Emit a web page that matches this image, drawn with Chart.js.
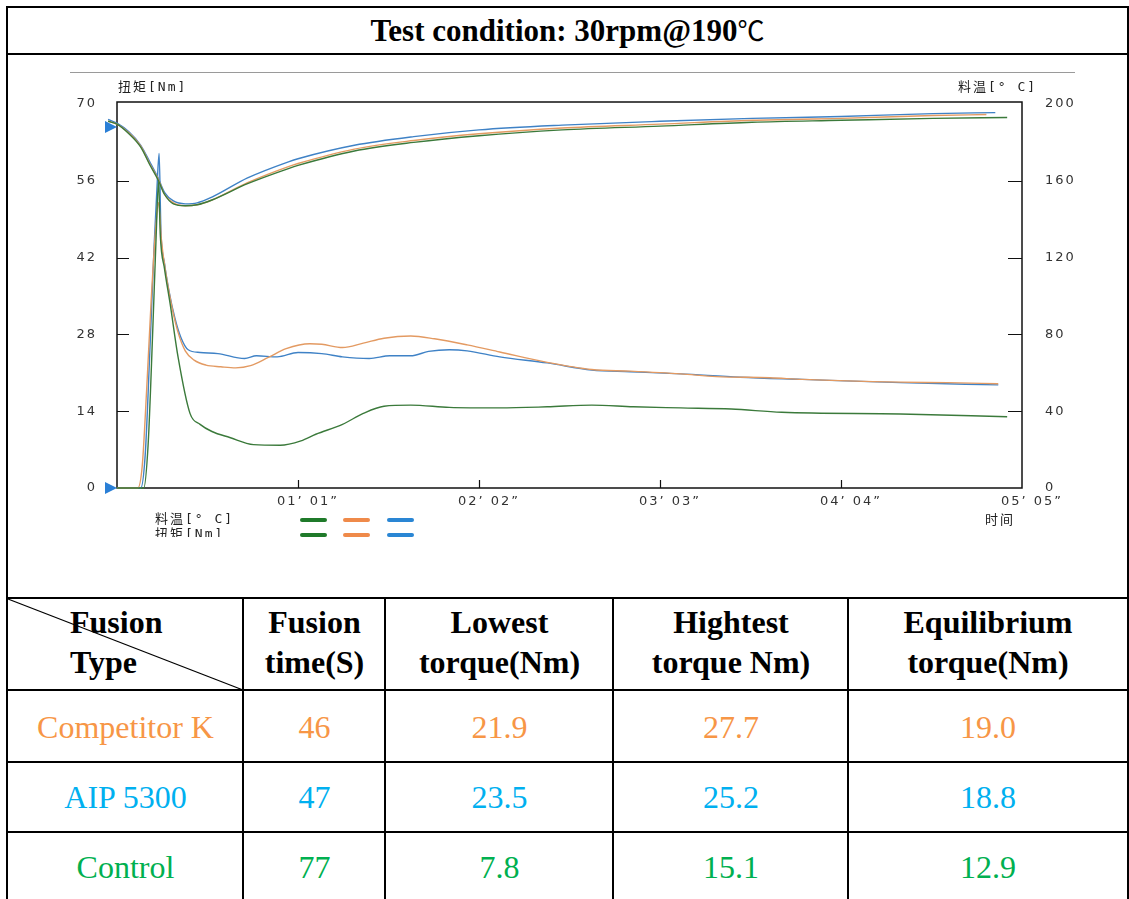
<!DOCTYPE html>
<html>
<head>
<meta charset="utf-8">
<script src="https://cdn.jsdelivr.net/npm/chart.js@4.4.0/dist/chart.umd.min.js"></script>
<style>
  html, body { margin: 0; padding: 0; background: #fff; }
  #page { position: relative; width: 1129px; height: 899px; overflow: hidden;
          font-family: "Liberation Serif", "Times New Roman", serif; }
  .hl { position: absolute; height: 2px; background: #000; }
  .vl { position: absolute; width: 2px; background: #000; }
  .cell { position: absolute; text-align: center; white-space: nowrap; }
  .hd { font-weight: bold; font-size: 32px; line-height: 40px; color: #000; }
  .bd { font-size: 32px; line-height: 40px; }
  .small { position: absolute; font-family: "DejaVu Sans Mono", "Noto Sans CJK SC", monospace;
           font-size: 13px; color: #222; white-space: nowrap; letter-spacing: 2px; }
  .dash { position: absolute; width: 27px; height: 4px; border-radius: 2px; }
  #chartBox { position: absolute; left: 9px; top: 56px; width: 1117px; height: 541px; }
  #legendClip { position: absolute; left: 9px; top: 505px; width: 1117px; height: 32px; overflow: hidden; }
</style>
</head>
<body>
<div id="page">
  <!-- table lines -->
  <div class="hl" style="left:6px;top:6px;width:1123px"></div>
  <div class="hl" style="left:6px;top:53px;width:1123px"></div>
  <div class="hl" style="left:6px;top:597px;width:1123px"></div>
  <div class="hl" style="left:6px;top:689px;width:1123px"></div>
  <div class="hl" style="left:6px;top:761px;width:1123px"></div>
  <div class="hl" style="left:6px;top:831px;width:1123px"></div>
  <div class="vl" style="left:6px;top:6px;height:893px"></div>
  <div class="vl" style="left:1127px;top:6px;height:893px"></div>
  <div class="vl" style="left:242px;top:597px;height:302px"></div>
  <div class="vl" style="left:384px;top:597px;height:302px"></div>
  <div class="vl" style="left:612px;top:597px;height:302px"></div>
  <div class="vl" style="left:847px;top:597px;height:302px"></div>
  <svg style="position:absolute;left:0;top:0" width="260" height="700">
    <line x1="8" y1="599" x2="243" y2="690" stroke="#000" stroke-width="1.3"/>
  </svg>

  <div class="cell" style="left:8px;top:11px;width:1119px;font-weight:bold;font-size:31px;line-height:38px">Test condition: 30rpm@190<span style="font-family:'Noto Sans CJK SC';font-weight:normal;font-size:27px">℃</span></div>

  <div id="chartBox"><canvas id="rheoChart" width="1117" height="541"></canvas></div>
  <div style="position:absolute;left:70px;top:72px;width:1005px;height:1px;background:#9a9a9a"></div>
  <div class="small" style="left:118px;top:76px">扭矩[Nm]</div>
  <div class="small" style="left:958px;top:76px">料温[° C]</div>
  <div class="small" style="left:985px;top:509px">时间</div>
  <div id="legendClip">
    <div class="small" style="left:146px;top:3px">料温[° C]</div>
    <div class="small" style="left:146px;top:18px">扭矩[Nm]</div>
    <div class="dash" style="left:291px;top:13px;background:#1f7a2a"></div>
    <div class="dash" style="left:334px;top:13px;background:#ef8a4a"></div>
    <div class="dash" style="left:378px;top:13px;background:#2a86d4"></div>
    <div class="dash" style="left:291px;top:28px;background:#1f7a2a"></div>
    <div class="dash" style="left:334px;top:28px;background:#ef8a4a"></div>
    <div class="dash" style="left:378px;top:28px;background:#2a86d4"></div>
  </div>

  <!-- header row -->
  <div class="cell hd" style="left:70px;top:602px;text-align:left">Fusion<br>Type</div>
  <div class="cell hd" style="left:244px;top:602px;width:141px">Fusion<br>time(S)</div>
  <div class="cell hd" style="left:386px;top:602px;width:227px">Lowest<br>torque(Nm)</div>
  <div class="cell hd" style="left:614px;top:602px;width:234px">Hightest<br>torque Nm)</div>
  <div class="cell hd" style="left:849px;top:602px;width:278px">Equilibrium<br>torque(Nm)</div>
  <div id="tableBody"></div>
</div>

<script>
// ---- data ----
const sampleNames = ["Competitor K", "AIP 5300", "Control"];
const sampleColors = ["#f79646", "#00b0f0", "#00b050"];
const fusionTime = [46, 47, 77];
const lowestTorque = ["21.9", "23.5", "7.8"];
const highestTorque = ["27.7", "25.2", "15.1"];
const equilibriumTorque = ["19.0", "18.8", "12.9"];

const torqueTicks = [0, 14, 28, 42, 56, 70];
const tempTicks = [0, 40, 80, 120, 160, 200];
const timeTicks = ["", "01’ 01”", "02’ 02”", "03’ 03”", "04’ 04”", "05’ 05”"];

// [seconds, Nm]
const torqueK = [[0,0],[7,0],[8.5,4],[10,18],[11.5,34],[13,47],[14,52],[15,45],[16.5,39],[18.5,33],[20.5,28.5],[23,25],[26,23.3],[30,22.4],[35,22.1],[40,21.9],[45,22.3],[51,23.8],[57,25.4],[65,26.3],[69,26.2],[76,25.6],[83,26.4],[90,27.3],[99,27.7],[107,27.2],[118,26.1],[129,24.8],[145,22.9],[160,21.6],[173,21.3],[190,20.8],[202,20.3],[220,20.1],[231,19.8],[264,19.3],[280,19.2],[297,19.0]];
const torqueAIP = [[0,0],[8,0],[9.5,6],[11,24],[12.5,44],[13.5,55],[14.2,61],[14.8,47],[16,41],[17.5,36],[19.5,31],[21.5,27.5],[24,25.2],[28,24.7],[34,24.5],[43,23.6],[47,24.1],[54,23.9],[61,24.7],[69,24.5],[76,23.9],[85,23.6],[92,24.1],[99,24.1],[105,24.9],[112,25.2],[118,25.0],[129,23.9],[145,22.8],[160,21.5],[173,21.2],[190,20.8],[210,20.2],[231,19.8],[264,19.2],[297,18.8]];
const torqueCtrl = [[0,0],[9,0],[10.5,8],[12,28],[13.2,46],[14,56],[14.6,46],[16,40],[17.9,33.6],[20.6,23.8],[24.6,13.6],[28,11.6],[32,10.3],[38,9.2],[46,7.9],[55,7.8],[62,8.6],[67,9.8],[76,11.6],[83,13.6],[90,14.9],[99,15.1],[112,14.7],[129,14.6],[145,14.8],[160,15.1],[174,14.8],[190,14.6],[207,14.4],[224,13.8],[264,13.5],[300,13.0]];

// [seconds, °C]
const tempK = [[-3,191],[0,189.5],[4,185],[8,178],[11,169],[14,160.5],[16,153],[19,148.5],[23,147],[27,147.5],[32,150],[44,159],[58,167.5],[61,169],[80,176.5],[100,181],[122,184.5],[150,187.5],[183,189.5],[214,191.5],[244,192.5],[275,194],[293,194.5]];
const tempAIP = [[-3,192],[0,190],[4,185.5],[8,178.5],[11,170],[14,161],[16,154],[19,149.5],[23,148],[27,148.5],[32,151.5],[44,161.5],[58,170],[61,171.5],[80,178.5],[100,183],[122,186.5],[150,189],[183,191],[214,192.5],[244,193.5],[275,195],[296,195.5]];
const tempCtrl = [[-3,191],[0,189.5],[4,184.5],[8,177.5],[11,168.5],[14,160],[16,153],[19,148],[23,147],[27,147.5],[32,150],[44,158.5],[58,166.5],[61,168],[80,175.5],[100,180],[122,183.5],[150,186.5],[183,188.5],[214,190.5],[244,191.5],[275,192.5],[300,193]];

const startMarkers = [188, 0]; // °C scale values of the blue start arrows

// ---- table body ----
const rowTops = [707, 777, 847];
const colDefs = [[8, 235], [244, 141], [386, 227], [614, 234], [849, 278]];
let html = "";
sampleNames.forEach((name, i) => {
  const vals = [name, fusionTime[i], lowestTorque[i], highestTorque[i], equilibriumTorque[i]];
  vals.forEach((v, j) => {
    html += `<div class="cell bd" style="left:${colDefs[j][0]}px;top:${rowTops[i]}px;width:${colDefs[j][1]}px;color:${sampleColors[i]}">${v}</div>`;
  });
});
document.getElementById("tableBody").innerHTML = html;

// ---- chart ----
const toXY = arr => arr.map(p => ({ x: p[0], y: p[1] }));
const lineGreen = "#3b7a3b", lineOrange = "#e39a62", lineBlue = "#3f82c6";

function mkSet(data, color, axis) {
  return {
    data: toXY(data), yAxisID: axis, borderColor: color, borderWidth: 1.4,
    pointRadius: 0, cubicInterpolationMode: "monotone", fill: false, clip: false
  };
}

const framePlugin = {
  id: "frame",
  beforeUpdate(chart) { chart.ctx.letterSpacing = "2px"; },
  beforeDraw(chart) { chart.ctx.letterSpacing = "2px"; },
  beforeDatasetsDraw(chart) {
    const { ctx, chartArea: a, scales } = chart;
    ctx.save();
    ctx.strokeStyle = "#111";
    ctx.lineWidth = 1.5;
    ctx.strokeRect(a.left, a.top - 2, a.right - a.left, a.bottom - a.top + 2);
    ctx.lineWidth = 1.2;
    ctx.beginPath();
    scales.yT.ticks.forEach(t => {
      if (t.value > 0 && t.value < 70) {
        const y = Math.round(scales.yT.getPixelForValue(t.value)) + 0.5;
        ctx.moveTo(a.left, y); ctx.lineTo(a.left + 12, y);
      }
    });
    scales.yC.ticks.forEach(t => {
      if (t.value > 0 && t.value < 200) {
        const y = Math.round(scales.yC.getPixelForValue(t.value)) + 0.5;
        ctx.moveTo(a.right - 14, y); ctx.lineTo(a.right, y);
      }
    });
    scales.x.ticks.forEach(t => {
      if (t.value > 0 && t.value < 305) {
        const x = Math.round(scales.x.getPixelForValue(t.value)) + 0.5;
        ctx.moveTo(x, a.bottom - 8); ctx.lineTo(x, a.bottom);
      }
    });
    ctx.stroke();
    ctx.restore();
  },
  afterDatasetsDraw(chart) {
    const { ctx, chartArea: a, scales } = chart;
    ctx.save();
    ctx.fillStyle = "#2a7fd6";
    startMarkers.forEach(v => {
      const y = scales.yC.getPixelForValue(v);
      ctx.beginPath();
      ctx.moveTo(a.left - 12, y - 6);
      ctx.lineTo(a.left, y);
      ctx.lineTo(a.left - 12, y + 6);
      ctx.closePath();
      ctx.fill();
    });
    ctx.restore();
  }
};

const tickFont = { family: "DejaVu Sans", size: 13 };

new Chart(document.getElementById("rheoChart").getContext("2d"), {
  type: "line",
  data: {
    datasets: [
      mkSet(tempCtrl, lineGreen, "yC"),
      mkSet(tempK, lineOrange, "yC"),
      mkSet(tempAIP, lineBlue, "yC"),
      mkSet(torqueCtrl, lineGreen, "yT"),
      mkSet(torqueK, lineOrange, "yT"),
      mkSet(torqueAIP, lineBlue, "yT")
    ]
  },
  options: {
    responsive: false,
    animation: false,
    devicePixelRatio: 1,
    layout: { padding: { top: 48, left: 0, right: 0, bottom: 0 } },
    plugins: { legend: { display: false }, tooltip: { enabled: false } },
    scales: {
      x: {
        type: "linear", min: 0, max: 305,
        grid: { display: false, drawTicks: false }, border: { display: false },
        afterFit: s => { s.height = 109; },
        afterBuildTicks: s => { s.ticks = timeTicks.map((_, i) => ({ value: i * 61 })); },
        ticks: {
          autoSkip: false, maxRotation: 0, padding: 6, labelOffset: 10,
          color: "#333", font: tickFont,
          callback: (v, i) => timeTicks[i]
        }
      },
      yT: {
        position: "left", min: 0, max: 70,
        grid: { display: false, drawTicks: false }, border: { display: false },
        afterFit: s => { s.width = 108; },
        afterBuildTicks: s => { s.ticks = torqueTicks.map(v => ({ value: v })); },
        ticks: { padding: 20, color: "#333", font: tickFont }
      },
      yC: {
        position: "right", min: 0, max: 200,
        grid: { display: false, drawTicks: false }, border: { display: false },
        afterFit: s => { s.width = 104; },
        afterBuildTicks: s => { s.ticks = tempTicks.map(v => ({ value: v })); },
        ticks: { padding: 23, color: "#333", font: tickFont }
      }
    }
  },
  plugins: [framePlugin]
});
</script>
</body>
</html>
